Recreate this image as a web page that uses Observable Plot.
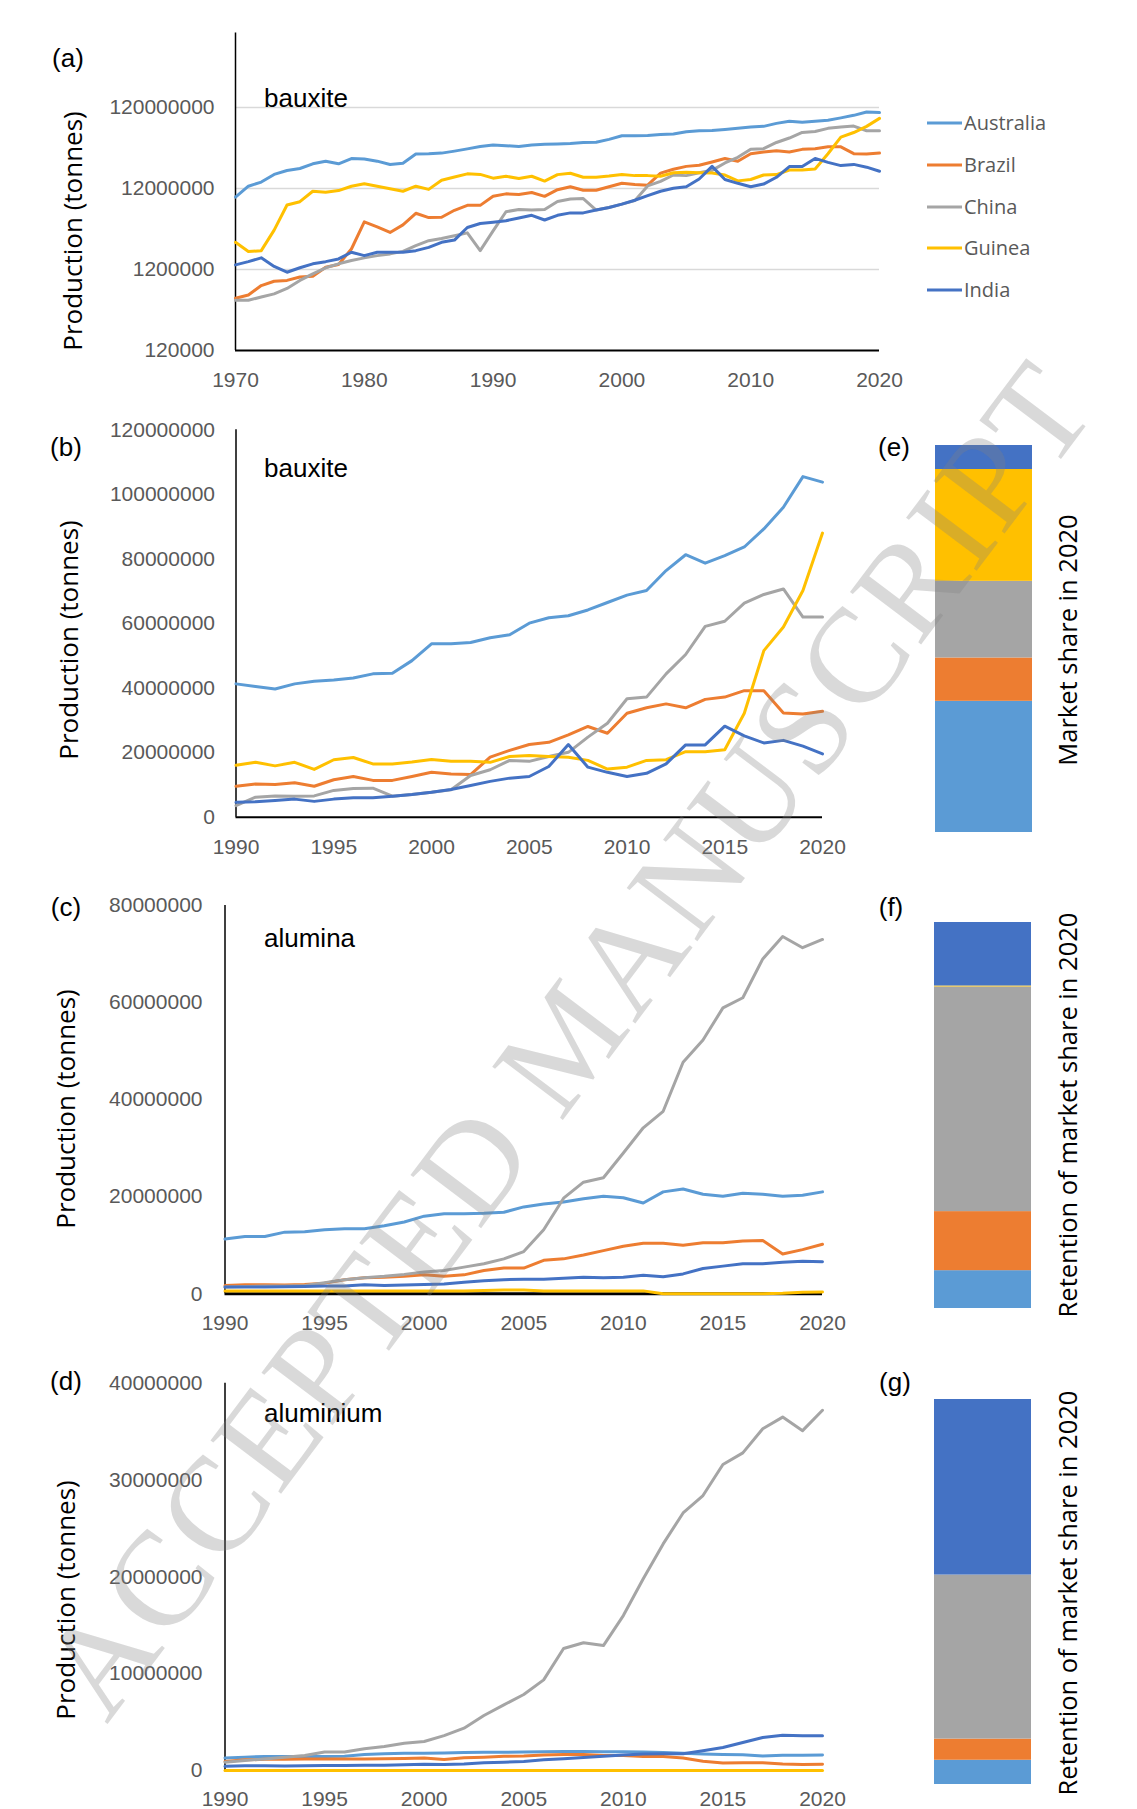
<!DOCTYPE html>
<html><head><meta charset="utf-8">
<script src="https://cdn.jsdelivr.net/npm/d3@7"></script>
<script src="https://cdn.jsdelivr.net/npm/@observablehq/plot@0.6"></script>
<style>
body{margin:0;background:#fff;}
#page{position:relative;width:1137px;height:1809px;overflow:hidden;background:#fff;}
.plot{position:absolute;}
.lab{position:absolute;font-family:"Liberation Sans",Arial,sans-serif;font-size:26px;color:#000;line-height:1;white-space:nowrap;}
.ytitle{position:absolute;font-family:"Open Sans",sans-serif;font-size:26px;color:#000;line-height:1;white-space:nowrap;transform:translate(-50%,-50%) rotate(-90deg);}
.stitle{position:absolute;font-family:"Open Sans",sans-serif;font-size:25.5px;color:#000;line-height:1;white-space:nowrap;transform:translate(-50%,-50%) rotate(-90deg);}
.leg{position:absolute;font-family:"Open Sans",sans-serif;font-size:20px;color:#595959;line-height:1;white-space:nowrap;display:flex;align-items:center;}
</style></head><body><div id="page"></div>
<script>
// ---------------- data ----------------
const countries = ["Australia", "Brazil", "China", "Guinea", "India"];
const colors = ["#5B9BD5", "#ED7D31", "#A5A5A5", "#FFC000", "#4472C4"];
const UNIT = 1e6; // values below are in million tonnes

const yearsA = [1970,1971,1972,1973,1974,1975,1976,1977,1978,1979,1980,1981,1982,1983,1984,1985,1986,1987,1988,1989,
  1990,1991,1992,1993,1994,1995,1996,1997,1998,1999,2000,2001,2002,2003,2004,2005,2006,2007,2008,2009,
  2010,2011,2012,2013,2014,2015,2016,2017,2018,2019,2020];
const years90 = [1990,1991,1992,1993,1994,1995,1996,1997,1998,1999,2000,2001,2002,2003,2004,2005,2006,2007,2008,2009,
  2010,2011,2012,2013,2014,2015,2016,2017,2018,2019,2020];

// bauxite 1970-2020
const bauxiteAustralia = [9.4,12.8,14.4,17.9,20.0,21.2,24.2,26.1,24.2,28.1,27.7,26.1,23.7,24.6,31.9,32.2,32.8,34.7,37.0,39.6,
  41.3,40.5,39.7,41.3,42.1,42.5,43.1,44.4,44.6,48.5,53.7,53.7,54.1,55.6,56.5,60.1,61.8,62.4,64.2,66.5,68.8,70.2,76.4,81.3,78.7,81.0,83.7,89.3,96.0,105.5,103.8];
const bauxiteBrazil = [0.53,0.58,0.76,0.86,0.88,0.97,0.99,1.28,1.38,2.15,4.65,4.04,3.44,4.27,5.93,5.25,5.3,6.46,7.43,7.43,
  9.6,10.3,10.1,10.7,9.6,11.6,12.6,11.4,11.4,12.6,13.9,13.4,13.2,18.6,20.7,22.5,23.2,25.5,28.1,26.0,32.2,33.9,35.1,33.9,36.5,37.2,39.2,39.2,32.3,32.0,32.8];
const bauxiteChina = [0.50,0.50,0.55,0.60,0.70,0.88,1.06,1.26,1.41,1.55,1.67,1.78,1.87,2.01,2.36,2.72,2.9,3.13,3.4,2.05,
  3.6,6.2,6.6,6.5,6.6,8.3,8.9,9.0,6.5,7.0,7.7,8.5,12.9,14.7,17.6,17.3,18.8,20.1,24.8,29.1,36.7,37.2,44.4,50.4,59.1,60.7,66.3,69.0,70.7,62.0,62.0];
const bauxiteGuinea = [2.6,2.0,2.05,3.67,7.5,8.25,11.1,10.8,11.3,12.8,13.7,12.8,11.9,11.1,12.8,11.7,15.2,16.6,18.2,17.9,
  16.1,17.0,15.9,17.0,14.8,17.8,18.5,16.5,16.5,17.1,17.9,17.3,17.3,17.0,18.8,19.1,18.8,18.6,17.6,14.9,15.5,17.6,17.8,20.3,20.3,20.9,32.2,51.6,58.9,70.2,88.0];
const bauxiteIndia = [1.37,1.5,1.67,1.31,1.11,1.26,1.41,1.5,1.62,1.96,1.78,1.96,1.96,1.96,2.05,2.25,2.6,2.77,3.96,4.43,
  4.6,4.8,5.2,5.6,4.9,5.6,6.0,6.0,6.5,7.0,7.7,8.6,9.8,11.1,12.1,12.6,15.7,22.5,15.5,13.9,12.6,13.6,16.5,22.4,22.4,28.2,25.2,23.0,23.8,22.0,19.6];

// alumina 1990-2020
const aluminaAustralia = [11.3,11.8,11.8,12.7,12.8,13.2,13.4,13.4,14.0,14.8,16.0,16.5,16.5,16.6,16.8,17.9,18.5,18.9,19.6,20.1,19.8,18.7,21.0,21.6,20.5,20.1,20.7,20.5,20.1,20.3,21.0];
const aluminaBrazil = [1.7,1.85,1.85,1.8,1.9,2.2,2.9,3.3,3.4,3.6,3.9,3.6,3.9,4.8,5.3,5.3,6.9,7.2,8.0,8.9,9.8,10.4,10.4,10.0,10.5,10.5,10.9,11.0,8.2,9.1,10.2];
const aluminaChina = [1.4,1.5,1.6,1.6,1.7,2.3,2.9,3.3,3.6,4.0,4.5,4.8,5.5,6.2,7.2,8.7,13.2,19.7,23.0,23.9,29.0,34.2,37.6,47.7,52.3,58.9,61.0,69.0,73.6,71.3,73.0];
const aluminaGuinea = [0.6,0.6,0.6,0.6,0.6,0.6,0.6,0.6,0.6,0.6,0.6,0.6,0.6,0.7,0.8,0.8,0.6,0.6,0.6,0.6,0.6,0.6,0,0,0,0,0,0,0.1,0.3,0.35];
const aluminaIndia = [1.4,1.4,1.4,1.45,1.5,1.6,1.6,1.85,1.7,1.8,1.9,2.0,2.4,2.7,2.9,3.0,3.0,3.2,3.4,3.3,3.4,3.8,3.5,4.1,5.2,5.7,6.2,6.2,6.5,6.7,6.6];

// aluminium 1990-2020
const aluminiumAustralia = [1.3,1.38,1.45,1.45,1.45,1.45,1.48,1.65,1.72,1.79,1.79,1.82,1.86,1.89,1.89,1.9,1.93,1.96,1.97,1.93,1.93,1.9,1.86,1.79,1.7,1.65,1.63,1.5,1.58,1.57,1.59];
const aluminiumBrazil = [0.93,1.1,1.15,1.15,1.18,1.19,1.2,1.19,1.21,1.25,1.28,1.14,1.32,1.38,1.46,1.5,1.6,1.65,1.66,1.54,1.54,1.44,1.44,1.3,0.96,0.77,0.79,0.8,0.66,0.61,0.65];
const aluminiumChina = [0.86,1.03,1.2,1.38,1.55,1.9,1.9,2.24,2.48,2.82,3.0,3.6,4.37,5.68,6.78,7.85,9.36,12.6,13.2,12.9,16.0,19.8,23.4,26.6,28.4,31.6,32.8,35.3,36.5,35.1,37.2];
const aluminiumGuinea = [0,0,0,0,0,0,0,0,0,0,0,0,0,0,0,0,0,0,0,0,0,0,0,0,0,0,0,0,0,0,0];
const aluminiumIndia = [0.43,0.5,0.5,0.47,0.48,0.52,0.52,0.54,0.55,0.6,0.64,0.62,0.67,0.8,0.86,0.94,1.1,1.22,1.35,1.48,1.61,1.7,1.72,1.74,2.05,2.38,2.9,3.4,3.65,3.6,3.6];

// stacked shares (%) in 2020, bottom to top = countries order
const shareE = [33.9, 11.2, 19.8, 28.9, 6.2];
const shareF = [9.8, 15.3, 58.2, 0.25, 16.6];
const shareG = [6.3, 5.5, 42.6, 0, 45.6];

// ticks
const xTicksA = [1970, 1980, 1990, 2000, 2010, 2020];
const xTicks = [1990, 1995, 2000, 2005, 2010, 2015, 2020];
const yTicksA = [120000, 1200000, 12000000, 120000000];
const gridA = [1200000, 12000000, 120000000];
const yTicksB = [0, 20000000, 40000000, 60000000, 80000000, 100000000, 120000000];
const yTicksC = [0, 20000000, 40000000, 60000000, 80000000];
const yTicksD = [0, 10000000, 20000000, 30000000, 40000000];

// ---------------- helpers ----------------
const page = document.getElementById("page");
function place(el, left, top) { el.classList.add("plot"); el.style.left = left + "px"; el.style.top = top + "px"; page.appendChild(el); }
function table(years, seriesList, fromYear) {
  const rows = [];
  seriesList.forEach((vals, i) => vals.forEach((v, j) => {
    if (years[j] >= fromYear) rows.push({year: years[j], country: countries[i], value: v * UNIT});
  }));
  return rows;
}
const fmt = d => String(d);
const baseStyle = {fontFamily: "'Liberation Sans', Arial, sans-serif", fontSize: "21px", color: "#595959", background: "transparent", overflow: "visible"};
const colorScale = {domain: countries, range: colors};
function lineMark(data) {
  return Plot.line(data, {x: "year", y: "value", z: "country", stroke: "country", strokeWidth: 3, strokeLinejoin: "round", strokeLinecap: "round"});
}
function addText(cls, txt, left, top, transform) {
  const d = document.createElement("div"); d.className = cls; d.textContent = txt;
  d.style.left = left + "px"; d.style.top = top + "px"; if (transform) d.style.transform = transform;
  page.appendChild(d);
}

// ---------------- (a) log bauxite ----------------
const dataA = table(yearsA, [bauxiteAustralia, bauxiteBrazil, bauxiteChina, bauxiteGuinea, bauxiteIndia], 1970);
place(Plot.plot({
  width: 900, height: 400, marginLeft: 235, marginRight: 21, marginTop: 32.4, marginBottom: 50,
  style: baseStyle,
  x: {domain: [1970, 2020]},
  y: {type: "log", domain: [120000, 1e9]},
  color: colorScale,
  marks: [
    Plot.ruleY(gridA, {stroke: "#d9d9d9", strokeWidth: 1.5}),
    Plot.axisX(xTicksA, {tickSize: 0, tickPadding: 22, tickFormat: fmt, label: null}),
    Plot.axisY(yTicksA, {tickSize: 0, tickPadding: 21, tickFormat: fmt, label: null}),
    Plot.ruleX([1970], {stroke: "#000", strokeWidth: 1.5}),
    Plot.ruleY([120000], {stroke: "#000", strokeWidth: 2}),
    lineMark(dataA)
  ]
}), 0, 0);

// ---------------- (b) bauxite ----------------
const dataB = table(yearsA, [bauxiteAustralia, bauxiteBrazil, bauxiteChina, bauxiteGuinea, bauxiteIndia], 1990);
place(Plot.plot({
  width: 900, height: 460, marginLeft: 235.5, marginRight: 78, marginTop: 29.3, marginBottom: 43.3,
  style: baseStyle,
  x: {domain: [1990, 2020]},
  y: {domain: [0, 120000000]},
  color: colorScale,
  marks: [
    Plot.axisX(xTicks, {tickSize: 0, tickPadding: 22, tickFormat: fmt, label: null}),
    Plot.axisY(yTicksB, {tickSize: 0, tickPadding: 21, tickFormat: fmt, label: null}),
    Plot.ruleX([1990], {stroke: "#000", strokeWidth: 1.5}),
    Plot.ruleY([0], {stroke: "#000", strokeWidth: 2}),
    lineMark(dataB)
  ]
}), 0, 400);

// ---------------- (c) alumina ----------------
const dataC = table(years90, [aluminaAustralia, aluminaBrazil, aluminaChina, aluminaGuinea, aluminaIndia], 1990);
place(Plot.plot({
  width: 900, height: 470, marginLeft: 224.5, marginRight: 78, marginTop: 35, marginBottom: 46.7,
  style: baseStyle,
  x: {domain: [1990, 2020]},
  y: {domain: [0, 80000000]},
  color: colorScale,
  marks: [
    Plot.axisX(xTicks, {tickSize: 0, tickPadding: 21, tickFormat: fmt, label: null}),
    Plot.axisY(yTicksC, {tickSize: 0, tickPadding: 22.5, tickFormat: fmt, label: null}),
    Plot.ruleX([1990], {stroke: "#000", strokeWidth: 1.5}),
    Plot.ruleY([0], {stroke: "#000", strokeWidth: 3}),
    lineMark(dataC)
  ]
}), 0, 870);

// ---------------- (d) aluminium ----------------
const dataD = table(years90, [aluminiumAustralia, aluminiumBrazil, aluminiumChina, aluminiumGuinea, aluminiumIndia], 1990);
place(Plot.plot({
  width: 900, height: 469, marginLeft: 224.5, marginRight: 78, marginTop: 42.7, marginBottom: 39,
  style: baseStyle,
  x: {domain: [1990, 2020]},
  y: {domain: [0, 40000000]},
  color: colorScale,
  marks: [
    Plot.axisX(xTicks, {tickSize: 0, tickPadding: 21, tickFormat: fmt, label: null}),
    Plot.axisY(yTicksD, {tickSize: 0, tickPadding: 22.5, tickFormat: fmt, label: null}),
    Plot.ruleX([1990], {stroke: "#000", strokeWidth: 1.5}),
    Plot.ruleY([0], {stroke: "#000", strokeWidth: 2}),
    lineMark(dataD)
  ]
}), 0, 1340);

// ---------------- stacked bars (e)(f)(g) ----------------
function shareBar(shares, height) {
  const rows = shares.map((s, i) => ({country: countries[i], share: s}));
  return Plot.plot({
    width: 97, height: height, margin: 0,
    style: {background: "transparent"},
    y: {domain: [0, 100], axis: null},
    color: colorScale,
    marks: [Plot.barY(rows, {y: "share", fill: "country", insetTop: 0, insetBottom: 0})]
  });
}
place(shareBar(shareE, 387), 935, 445);
place(shareBar(shareF, 386), 934, 922);
place(shareBar(shareG, 385), 934, 1399);

// ---------------- texts ----------------
const panelLabels = [["(a)", 68, 58], ["(b)", 66, 447], ["(c)", 66, 907], ["(d)", 66, 1381], ["(e)", 894, 447], ["(f)", 891, 907], ["(g)", 895, 1382]];
panelLabels.forEach(([t, x, y]) => addText("lab", t, x, y, "translate(-50%,-50%)"));
const materialLabels = [["bauxite", 264, 98], ["bauxite", 264, 468], ["alumina", 264, 938], ["aluminium", 264, 1413]];
materialLabels.forEach(([t, x, y]) => addText("lab", t, x, y, "translateY(-50%)"));
const yTitles = [["Production (tonnes)", 72, 231], ["Production (tonnes)", 68, 640], ["Production (tonnes)", 65, 1109], ["Production (tonnes)", 65, 1600]];
yTitles.forEach(([t, x, y]) => addText("ytitle", t, x, y));
const sideTitles = [["Market share in 2020", 1068, 640], ["Retention of market share in 2020", 1068, 1115], ["Retention of market share in 2020", 1068, 1593]];
sideTitles.forEach(([t, x, y]) => addText("stitle", t, x, y));

// legend for (a)
const legendRows = [123, 165, 207, 248, 290];
countries.forEach((c, i) => {
  const d = document.createElement("div"); d.className = "leg";
  d.style.left = "927px"; d.style.top = (legendRows[i] - 13) + "px"; d.style.height = "26px";
  d.innerHTML = `<svg width="35" height="26" style="display:block"><line x1="0" x2="35" y1="13" y2="13" stroke="${colors[i]}" stroke-width="3"/></svg><span style="margin-left:2px">${c}</span>`;
  page.appendChild(d);
});

// watermark, laid out letter by letter along one diagonal
const wmText = "ACCEPTED MANUSCRIPT";
const serifAdvance = {A: .722, C: .667, E: .611, P: .556, T: .611, D: .722, " ": .25, M: .889, N: .722, U: .722, S: .556, R: .667, I: .333};
const wmCenter = [566, 1040], wmAngle = -53, wmLength = 1650, wmSize = 135;
const emTotal = [...wmText].reduce((s, ch) => s + serifAdvance[ch], 0);
const k = wmLength / emTotal, ca = Math.cos(wmAngle * Math.PI / 180), sa = Math.sin(wmAngle * Math.PI / 180);
let cum = 0, wmHtml = "";
[...wmText].forEach(ch => {
  const w = serifAdvance[ch];
  if (ch !== " ") {
    const o = -wmLength / 2 + (cum + w / 2) * k;
    const x = wmCenter[0] + o * ca, y = wmCenter[1] + o * sa;
    wmHtml += `<text x="0" y="0" transform="translate(${x.toFixed(1)},${y.toFixed(1)}) rotate(${wmAngle})" text-anchor="middle" dominant-baseline="central" font-family="'Liberation Serif', 'DejaVu Serif', serif" font-size="${wmSize}" fill="#808080" fill-opacity="0.3">${ch}</text>`;
  }
  cum += w;
});
const wm = document.createElementNS("http://www.w3.org/2000/svg", "svg");
wm.setAttribute("width", 1137); wm.setAttribute("height", 1809);
wm.style.position = "absolute"; wm.style.left = "0"; wm.style.top = "0"; wm.style.pointerEvents = "none";
wm.innerHTML = wmHtml;
page.appendChild(wm);
</script>
</body></html>
